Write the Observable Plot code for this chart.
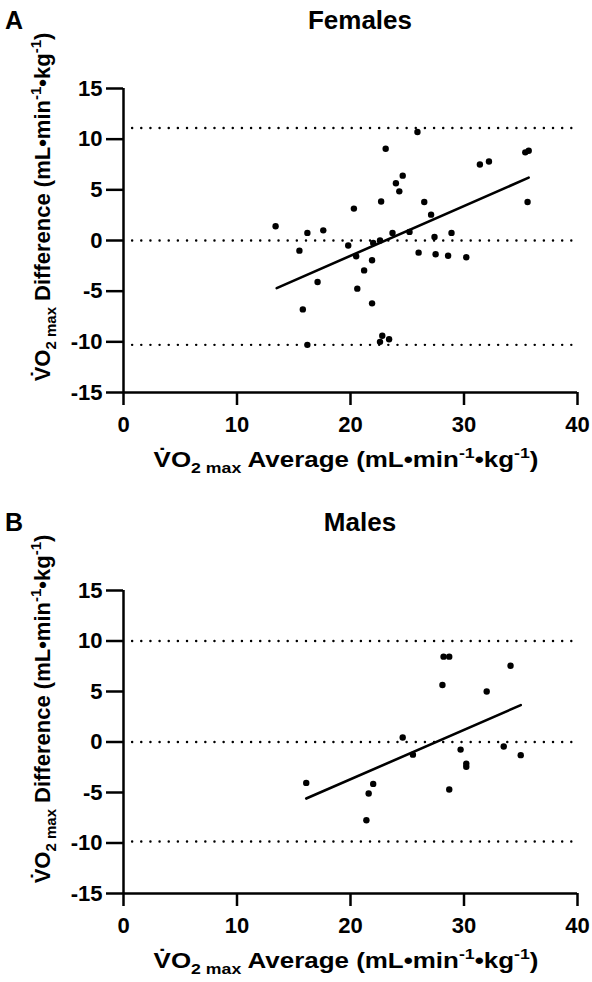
<!DOCTYPE html>
<html>
<head>
<meta charset="utf-8">
<script src="https://cdn.jsdelivr.net/npm/d3@7"></script>
<script src="https://cdn.jsdelivr.net/npm/@observablehq/plot@0.6"></script>
<style>
  html, body { margin: 0; padding: 0; background: #fff; }
  #wrap { width: 592px; }
  svg { display: block; }
</style>
</head>
<body>
<div id="wrap"></div>
<script>
// ---- Data ----
const xTicks = [0, 10, 20, 30, 40];
const yTicks = [-15, -10, -5, 0, 5, 10, 15];

const panelLetters = ["A", "B"];
const panelTitles = ["Females", "Males"];

const femaleAvg  = [13.4, 15.5, 16.2, 17.6, 17.1, 15.8, 20.3, 19.8, 20.5, 20.6, 21.2, 21.9, 21.9, 22.0, 22.6, 22.7, 23.1, 23.7, 24.0, 24.3, 24.6, 25.2, 25.9, 26.0, 26.5, 27.1, 27.4, 27.5, 28.6, 28.9, 30.2, 31.4, 32.2, 35.4, 35.7, 35.6, 16.2, 22.8, 22.6, 23.4];
const femaleDiff = [1.4, -1.0, 0.75, 1.0, -4.1, -6.8, 3.15, -0.5, -1.55, -4.75, -2.95, -1.95, -6.2, -0.25, 0.0, 3.85, 9.05, 0.75, 5.65, 4.85, 6.4, 0.85, 10.7, -1.2, 3.8, 2.55, 0.35, -1.35, -1.5, 0.75, -1.65, 7.5, 7.8, 8.7, 8.85, 3.8, -10.3, -9.4, -10.0, -9.75];

const maleAvg  = [16.1, 21.4, 21.6, 22.0, 24.6, 25.5, 28.1, 28.2, 28.7, 28.7, 29.7, 30.2, 30.2, 32.0, 33.5, 34.1, 35.0];
const maleDiff = [-4.05, -7.75, -5.1, -4.15, 0.45, -1.25, 5.65, 8.45, 8.45, -4.7, -0.75, -2.15, -2.45, 5.0, -0.45, 7.55, -1.3];

// limits of agreement / reference lines (upper, zero, lower)
const femaleLines = [11.1, 0, -10.3];
const maleLines   = [10.0, 0, -9.85];

// regression line end points
const femaleFitX = [13.5, 35.7];
const femaleFitY = [-4.7, 6.2];
const maleFitX = [16.1, 35.0];
const maleFitY = [-5.6, 3.65];

// ---- Drawing ----
const FONT = "'Liberation Sans', Arial, Helvetica, sans-serif";

function addRichText(sel, parts, bigSize) {
  let shift = 0;
  parts.forEach(([t, kind]) => {
    const target = kind === "sub" ? 6 : kind === "sup" ? -9 : 0;
    const ts = sel.append("tspan").text(t).attr("dy", target - shift);
    if (kind !== "n") ts.attr("font-size", Math.round(bigSize * 0.68));
    shift = target;
  });
}

function panel(letter, title, avg, diff, lines, fitX, fitY, height, marginBottom) {
  const pts = avg.map((a, i) => ({avg: a, diff: diff[i]}));
  const fit = fitX.map((a, i) => ({avg: a, diff: fitY[i]}));
  const svg = Plot.plot({
    width: 592,
    height: height,
    marginLeft: 123,
    marginRight: 15,
    marginTop: 88,
    marginBottom: marginBottom,
    style: {fontFamily: FONT, background: "#fff", color: "#000", overflow: "visible"},
    x: {domain: [0, 40]},
    y: {domain: [-15, 15]},
    marks: [
      Plot.ruleY(lines, {x1: 0.8, x2: 39.5, stroke: "#000", strokeWidth: 2.4, strokeDasharray: "0.1,9.05", strokeLinecap: "round"}),
      Plot.ruleX([0], {y1: -15, y2: 15, stroke: "#000", strokeWidth: 2.5}),
      Plot.ruleY([-15], {x1: 0, x2: 40, stroke: "#000", strokeWidth: 2.5}),
      Plot.axisY({ticks: yTicks, tickSize: 17, tickPadding: 4, fontSize: 22, fontWeight: "bold", strokeWidth: 2.5, label: null, tickFormat: d => String(d)}),
      Plot.axisX({ticks: xTicks, tickSize: 13, tickPadding: 11, fontSize: 22, fontWeight: "bold", strokeWidth: 2.5, label: null, tickFormat: d => String(d)}),
      Plot.line(fit, {x: "avg", y: "diff", stroke: "#000", strokeWidth: 2.6}),
      Plot.dot(pts, {x: "avg", y: "diff", r: 3.2, fill: "#000", stroke: null})
    ]
  });
  const s = d3.select(svg);
  const axisBottom = height - marginBottom;
  s.append("text").text(letter)
    .attr("x", 14).attr("y", 29)
    .attr("font-family", FONT).attr("font-weight", "bold").attr("font-size", 25).attr("fill", "#000");
  s.append("text").text(title)
    .attr("x", 360).attr("y", 29).attr("text-anchor", "middle")
    .attr("font-family", FONT).attr("font-weight", "bold").attr("font-size", 26).attr("fill", "#000");
  // x axis title
  const xt = s.append("text")
    .attr("transform", `translate(346,${axisBottom + 75}) scale(1.18,1)`)
    .attr("text-anchor", "middle")
    .attr("font-family", FONT).attr("font-weight", "bold").attr("font-size", 22).attr("fill", "#000");
  addRichText(xt, [["V\u0307O", "n"], ["2 max", "sub"], [" Average (mL\u2022min", "n"], ["-1", "sup"], ["\u2022kg", "n"], ["-1", "sup"], [")", "n"]], 22);
  // y axis title
  const yt = s.append("text")
    .attr("transform", `translate(50,207) rotate(-90)`)
    .attr("text-anchor", "middle")
    .attr("font-family", FONT).attr("font-weight", "bold").attr("font-size", 22).attr("fill", "#000");
  addRichText(yt, [["V\u0307O", "n"], ["2 max", "sub"], [" Difference (mL\u2022min", "n"], ["-1", "sup"], ["\u2022kg", "n"], ["-1", "sup"], [")", "n"]], 22);
  return svg;
}

const wrap = document.getElementById("wrap");
wrap.appendChild(panel(panelLetters[0], panelTitles[0], femaleAvg, femaleDiff, femaleLines, femaleFitX, femaleFitY, 502, 110));
wrap.appendChild(panel(panelLetters[1], panelTitles[1], maleAvg, maleDiff, maleLines, maleFitX, maleFitY, 480, 89));
</script>
</body>
</html>
